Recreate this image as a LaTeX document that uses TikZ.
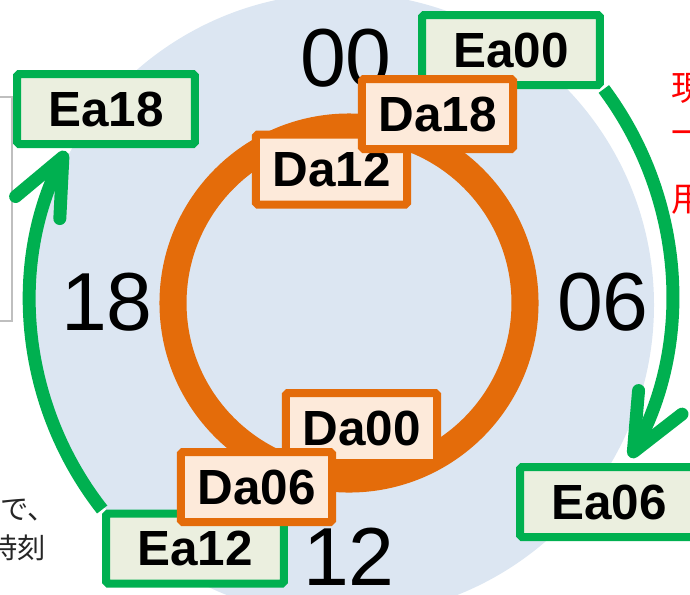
\documentclass[tikz,border=0pt]{standalone}
\usepackage{fontspec}
\setmainfont{Liberation Sans}
\newfontfamily\jpfont{Noto Sans CJK JP}
\usetikzlibrary{arrows.meta}

\begin{document}
\begin{tikzpicture}[x=0.85pt, y=-0.85pt]

\definecolor{skyfill}{RGB}{220, 230, 242}
\definecolor{ringorange}{RGB}{228, 108, 10}
\definecolor{dafill}{RGB}{253, 234, 218}
\definecolor{cyclegreen}{RGB}{0, 176, 80}
\definecolor{eafill}{RGB}{235, 239, 223}
\definecolor{framegray}{RGB}{191, 191, 191}
\definecolor{inkgray}{RGB}{38, 38, 38}

\useasboundingbox (0,0) rectangle (690,594);

\tikzset{
    ea box/.style={
        draw=cyclegreen, line width=6.8pt, fill=eafill,
        rounded corners=1.5pt, inner sep=0pt,
        minimum width=151pt, minimum height=59.5pt,
        font=\fontsize{42}{42}\selectfont\bfseries
    },
    da box/.style={
        draw=ringorange, line width=6.8pt, fill=dafill,
        rounded corners=1.5pt, inner sep=0pt,
        minimum width=128.4pt, minimum height=59.5pt,
        font=\fontsize{42}{42}\selectfont\bfseries
    },
    hour/.style={
        inner sep=0pt, font=\fontsize{70}{70}\selectfont
    },
    cycle arrow/.style={
        draw=cyclegreen, line width=11pt,
        -{Straight Barb[round, length=48pt, width=42pt]}
    },
    edge text/.style={
        inner sep=0pt, font=\jpfont\fontsize{24}{24}\selectfont, text=inkgray
    },
    note text/.style={
        inner sep=0pt, font=\jpfont\fontsize{29}{29}\selectfont, text=red
    }
}

% Background disc
\fill[skyfill] (342,305) circle[radius=312];

% Slide pieces cut off at the edges
\draw[framegray, line width=1.7pt] (-20,97) rectangle (12,321);
\node[edge text, anchor=east] (jpA) at (56,510) {で、};
\node[edge text, anchor=east] (jpB) at (46,548) {時刻};
\node[note text, anchor=west] (noteA) at (671,88) {現};
\node[note text, anchor=west] (noteB) at (671,138) {一};
\node[note text, anchor=west] (noteC) at (671,200) {用};

% Hours
\node[hour] (h00) at (346,58) {00};
\node[hour] (h06) at (603,302) {06};
\node[hour] (h12) at (349,557) {12};
\node[hour] (h18) at (107,302) {18};

% Orange ring
\draw[ringorange, line width=23pt] (349,303) circle[radius=176];

% Outer labels
\node[ea box] (Ea00) at (511,50) {Ea00};
\node[ea box] (Ea06) at (609,502) {Ea06};
\node[ea box] (Ea12) at (195,548.5) {Ea12};
\node[ea box] (Ea18) at (106,109) {Ea18};

% Cycle arrows
\draw[cycle arrow] (Ea00.south east) arc[start angle=-36.7, end angle=28.5, radius=343];
\draw[cycle arrow] (Ea12.north west) arc[start angle=141.9, end angle=206.5, radius=337];

% Inner labels
\node[da box] (Da12) at (331.5,169.5) {Da12};
\node[da box] (Da18) at (437.5,114) {Da18};
\node[da box] (Da00) at (361.5,428) {Da00};
\node[da box] (Da06) at (256.5,487) {Da06};

\end{tikzpicture}
\end{document}
